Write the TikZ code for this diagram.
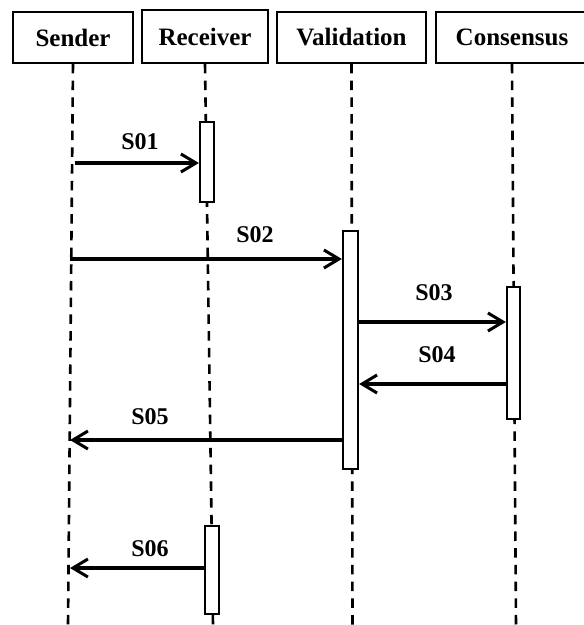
\documentclass[tikz,border=0pt]{standalone}
\usepackage{fontspec}
\setmainfont{Liberation Serif}
\usetikzlibrary{arrows.meta}
\begin{document}
\begin{tikzpicture}[x=1pt,y=-1pt,
  head/.style={draw, line width=1.8pt, inner sep=0pt, font=\fontsize{25}{30}\selectfont\bfseries},
  life/.style={line width=2.6pt, dash pattern=on 9.5pt off 7.2pt},
  act/.style={draw, line width=2.3pt, fill=white, inner sep=0pt},
  msg/.style={line width=3.3pt, -{Straight Barb[length=15pt,width=18pt,line width=3pt]}},
  lbl/.style={font=\fontsize{24}{28}\selectfont\bfseries, inner sep=0pt}]
\useasboundingbox (0,0) rectangle (584,625);
\clip (0,0) rectangle (584,625);
% headers
\node[head, minimum width=120pt, minimum height=51pt] (snd) at (73,37.5) {Sender};
\node[head, minimum width=126pt, minimum height=53pt] (rcv) at (205,36.5) {Receiver};
\node[head, minimum width=149pt, minimum height=51pt] (val) at (351.5,37.5) {Validation};
\node[head, minimum width=152pt, minimum height=51pt] (con) at (512,37.5) {Consensus};
% lifeline ends
\coordinate (sndB) at (68,625);
\coordinate (rcvB) at (213,625);
\coordinate (valB) at (352.5,625);
\coordinate (conB) at (516,625);
\draw[life] (snd.south) -- (sndB);
\draw[life] (rcv.south) -- (rcvB);
\draw[life] (val.south) -- (valB);
\draw[life] (con.south) -- (conB);
% activations
\node[act, minimum width=14pt, minimum height=80pt] (r1) at (207,162) {};
\node[act, minimum width=15pt, minimum height=238pt] (v1) at (350.5,350) {};
\node[act, minimum width=13pt, minimum height=132pt] (c1) at (513.5,353) {};
\node[act, minimum width=14pt, minimum height=88pt] (r2) at (212,570) {};
% message start/end points
\coordinate (p1) at (75,163);
\coordinate (p2) at (70,259);
\coordinate (p3) at (70,440);
\coordinate (p4) at (70,568);
\draw[msg] (p1) -- (p1 -| r1.west);
\draw[msg] (p2) -- (p2 -| v1.west);
\draw[msg] (v1.east |- 0,322) -- (c1.west |- 0,322);
\draw[msg] (c1.west |- 0,384) -- (v1.east |- 0,384);
\draw[msg] (v1.west |- p3) -- (p3);
\draw[msg] (r2.west |- p4) -- (p4);
% labels
\node[lbl] (l1) at (140,142) {S01};
\node[lbl] (l2) at (255,235) {S02};
\node[lbl] (l3) at (434,293) {S03};
\node[lbl] (l4) at (437,355) {S04};
\node[lbl] (l5) at (150,417) {S05};
\node[lbl] (l6) at (150,549) {S06};
\end{tikzpicture}
\end{document}
